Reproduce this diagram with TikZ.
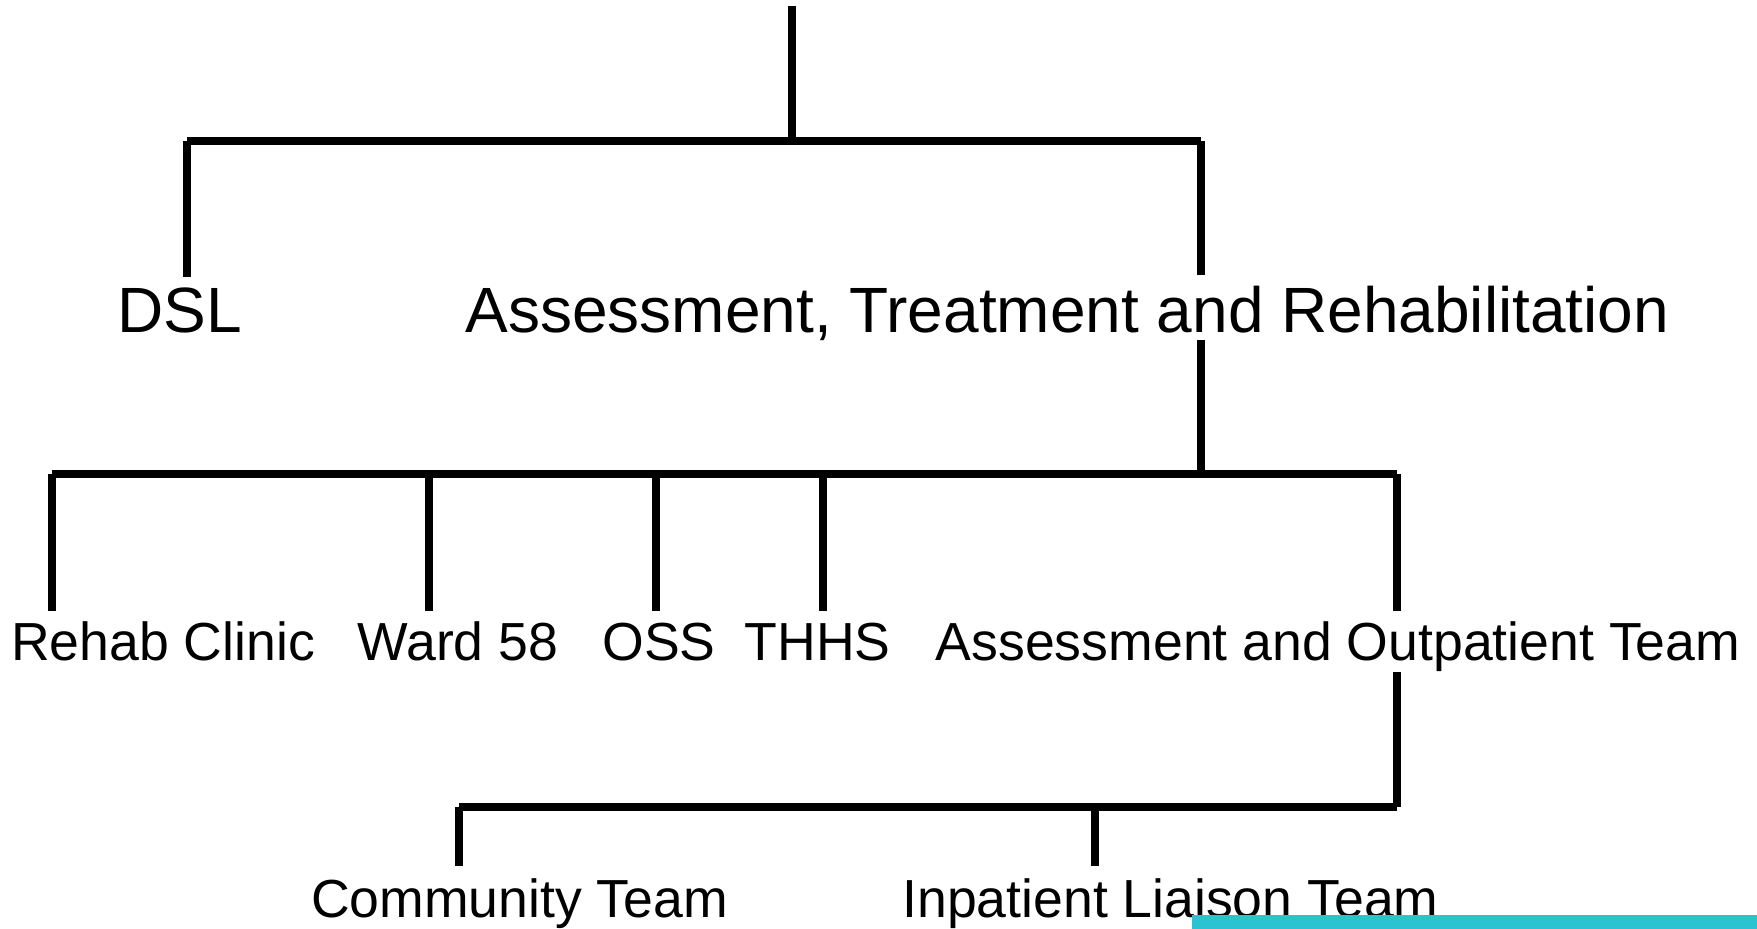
\documentclass[tikz,border=0pt]{standalone}
\usepackage{fontspec}
\setmainfont{Liberation Sans}
\definecolor{barcyan}{RGB}{43,195,210}
\begin{document}
\begin{tikzpicture}[x=0.5pt,y=-0.5pt,
  link/.style={line width=4pt,black,line cap=butt},
  big/.style={font=\fontsize{32}{38}\selectfont,inner sep=0pt,anchor=base},
  small/.style={font=\fontsize{26.8}{32}\selectfont,inner sep=0pt,anchor=base}]
\useasboundingbox (0,0) rectangle (1757,929);
% texts
\node[big] (dsl) at (179.5,333) {DSL};
\node[big] (atr) at (1067.5,333) {Assessment, Treatment and Rehabilitation};
\node[small] (rehab) at (163,661) {Rehab Clinic};
\node[small] (ward) at (458,661) {Ward 58};
\node[small] (oss) at (659,661) {OSS};
\node[small] (thhs) at (817.5,661) {THHS};
\node[small] (aot) at (1338,661) {Assessment and Outpatient Team};
\node[small] (comm) at (519.5,918) {Community Team};
\node[small] (inpat) at (1170.5,918) {Inpatient Liaison Team};
% junction coordinates
\coordinate (root) at (792,6);
\coordinate (rootJ) at (792,141);
\coordinate (h1L) at (187,141);
\coordinate (h1R) at (1201,141);
\coordinate (dslT) at (187,277);
\coordinate (atrT) at (1201,275);
\coordinate (atrB) at (1201,340);
\coordinate (h2J) at (1201,474);
\coordinate (h2L) at (51.5,474);
\coordinate (h2R) at (1397,474);
\coordinate (h2b) at (429,474);
\coordinate (h2c) at (655.5,474);
\coordinate (h2d) at (822.5,474);
\coordinate (rehabT) at (51.5,611);
\coordinate (wardT) at (429,611);
\coordinate (ossT) at (655.5,611);
\coordinate (thhsT) at (822.5,611);
\coordinate (aotT) at (1397,611);
\coordinate (aotB) at (1397,672);
\coordinate (h3R) at (1397,807);
\coordinate (h3L) at (459,807);
\coordinate (h3b) at (1095,807);
\coordinate (commT) at (459,866);
\coordinate (inpatT) at (1095,866);
% connectors
\draw[link] (root) -- (rootJ);
\draw[link] (h1L) -- (h1R);
\draw[link] (h1L) -- (dslT);
\draw[link] (h1R) -- (atrT);
\draw[link] (atrB) -- (h2J);
\draw[link] (h2L) -- (h2R);
\draw[link] (h2L) -- (rehabT);
\draw[link] (h2b) -- (wardT);
\draw[link] (h2c) -- (ossT);
\draw[link] (h2d) -- (thhsT);
\draw[link] (h2R) -- (aotT);
\draw[link] (aotB) -- (h3R);
\draw[link] (h3L) -- (h3R);
\draw[link] (h3L) -- (commT);
\draw[link] (h3b) -- (inpatT);
% cyan bar at bottom
\fill[barcyan] (1192,915) rectangle (1757,929);
\end{tikzpicture}
\end{document}
